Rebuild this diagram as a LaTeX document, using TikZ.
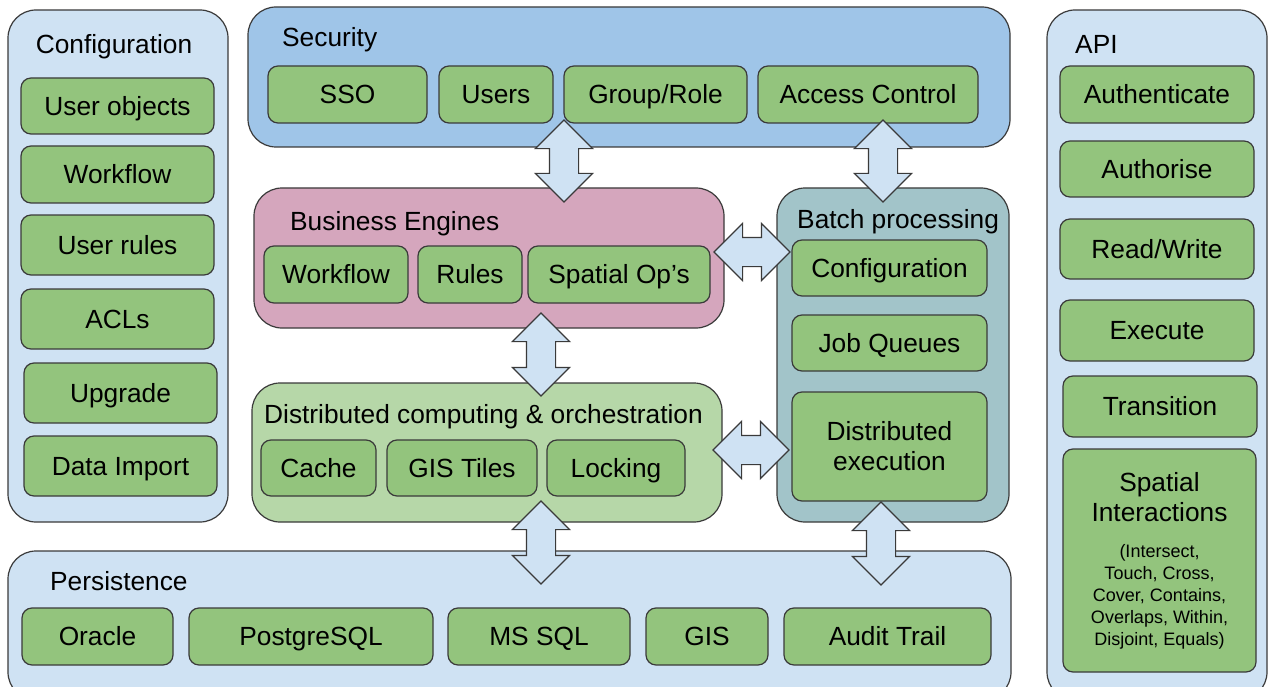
\documentclass[tikz,border=0pt]{standalone}
\usepackage{fontspec}
\setmainfont{Liberation Sans}
\usetikzlibrary{shapes.arrows}

\definecolor{linegray}{HTML}{3A3A3A}
\definecolor{itemgreen}{HTML}{93C47D}
\definecolor{paleblue}{HTML}{CFE2F3}
\definecolor{secblue}{HTML}{9FC5E8}
\definecolor{bizpink}{HTML}{D5A6BD}
\definecolor{batchteal}{HTML}{A2C4C9}
\definecolor{distgreen}{HTML}{B6D7A8}

\newcommand{\bigfont}{\fontsize{26.3}{30}\selectfont}
\newcommand{\smfont}{\fontsize{18}{22}\selectfont}

\tikzset{
  panel/.style={draw=linegray, line width=1.2pt, rounded corners=28pt},
  item/.style 2 args={draw=linegray, fill=itemgreen, line width=1.2pt, rounded corners=10pt,
    minimum width=#1pt, minimum height=#2pt, inner sep=0pt, font=\bigfont, text=black,
    text height=18.8pt, text depth=0pt},
  multi/.style={align=center, text height=, text depth=},
  title/.style={font=\bigfont, anchor=base west, inner sep=0pt, text=black},
  link/.style={double arrow, draw=linegray, fill=paleblue, line width=1.2pt, inner sep=14pt,
    double arrow head extend=14pt, minimum width=1pt, minimum height=#1pt},
}

\begin{document}
\begin{tikzpicture}[x=1pt,y=-1pt]
  \useasboundingbox (0,0) rectangle (1271,687);
  \clip (0,0) rectangle (1271,687);

  % Panels
  \draw[panel, fill=paleblue]  (8,10) rectangle (228,522);
  \draw[panel, fill=secblue]   (248,7) rectangle (1010,147);
  \draw[panel, fill=paleblue]  (1047,10) rectangle (1267,700);
  \draw[panel, fill=bizpink]   (254,188) rectangle (724,328);
  \draw[panel, fill=batchteal] (777,188) rectangle (1009,522);
  \draw[panel, fill=distgreen] (252,383) rectangle (722,522);
  \draw[panel, fill=paleblue]  (8,551) rectangle (1011,700);

  % Titles
  \node[title, anchor=base] (cfgtitle) at (114,54) {Configuration};
  \node[title] (sectitle) at (282,47) {Security};
  \node[title] (apititle) at (1075,54) {API};
  \node[title] (biztitle) at (290,230) {Business Engines};
  \node[title] (battitle) at (797,229) {Batch processing};
  \node[title] (disttitle) at (264,423) {Distributed computing \& orchestration};
  \node[title] (pertitle) at (50,590) {Persistence};

  % Configuration
  \node[item={193}{56}] (cfgobj)  at (117.5,106)   {User objects};
  \node[item={193}{57}] (cfgflow) at (117.5,174.5) {Workflow};
  \node[item={193}{60}] (cfgrule) at (117.5,245)   {User rules};
  \node[item={193}{60}] (cfgacl)  at (117.5,319)   {ACLs};
  \node[item={193}{60}] (cfgup)   at (120.5,393)   {Upgrade};
  \node[item={193}{60}] (cfgimp)  at (120.5,466)   {Data Import};

  % Security
  \node[item={159}{57}] (secsso)  at (347.5,94.5) {SSO};
  \node[item={114}{57}] (secuser) at (496,94.5)   {Users};
  \node[item={183}{57}] (secgrp)  at (655.5,94.5) {Group/Role};
  \node[item={220}{57}] (secacc)  at (868,94.5)   {Access Control};

  % API
  \node[item={194}{57}] (apiauth) at (1157,94.5)  {Authenticate};
  \node[item={194}{56}] (apiperm) at (1157,169)   {Authorise};
  \node[item={194}{60}] (apirw)   at (1157,249)   {Read/Write};
  \node[item={194}{61}] (apiexec) at (1157,330.5) {Execute};
  \node[item={194}{61}] (apitran) at (1160,406.5) {Transition};
  \node[item={193}{223}, multi] (apispat) at (1159.5,560.5)
    {Spatial\\[0pt]Interactions\\[6pt]
     \smfont(Intersect,\\[-8pt]\smfont Touch, Cross,\\[-8pt]\smfont Cover, Contains,\\[-8pt]
     \smfont Overlaps, Within,\\[-8pt]\smfont Disjoint, Equals)};

  % Business Engines
  \node[item={144}{57}] (bizflow) at (336,274.5) {Workflow};
  \node[item={104}{57}] (bizrule) at (470,274.5) {Rules};
  \node[item={182}{57}] (bizspat) at (619,274.5) {Spatial Op’s};

  % Batch processing
  \node[item={195}{56}]  (batcfg)  at (889.5,268)   {Configuration};
  \node[item={195}{56}]  (batjob)  at (889.5,343)   {Job Queues};
  \node[item={195}{109}, multi] (batexec) at (889.5,446.5) {Distributed\\execution};

  % Distributed computing
  \node[item={115}{56}] (distcache) at (318.5,468) {Cache};
  \node[item={150}{56}] (disttile)  at (462,468)   {GIS Tiles};
  \node[item={138}{56}] (distlock)  at (616,468)   {Locking};

  % Persistence
  \node[item={151}{57}] (perora)  at (97.5,636.5) {Oracle};
  \node[item={244}{57}] (perpg)   at (311,636.5)  {PostgreSQL};
  \node[item={182}{57}] (perms)   at (539,636.5)  {MS SQL};
  \node[item={122}{57}] (pergis)  at (707,636.5)  {GIS};
  \node[item={207}{57}] (peraud)  at (887.5,636.5) {Audit Trail};

  % Links
  \node[link=82, rotate=90] (lsecbiz) at (564,161)   {};
  \node[link=82, rotate=90] (lsecbat) at (883,161)   {};
  \node[link=76]            (lbizbat) at (752,252)   {};
  \node[link=83, rotate=90] (lbizdst) at (541,354.5) {};
  \node[link=76]            (ldstbat) at (751,450)   {};
  \node[link=83, rotate=90] (ldstper) at (541,542.5) {};
  \node[link=83, rotate=90] (lbatper) at (881,543.5) {};
\end{tikzpicture}
\end{document}
